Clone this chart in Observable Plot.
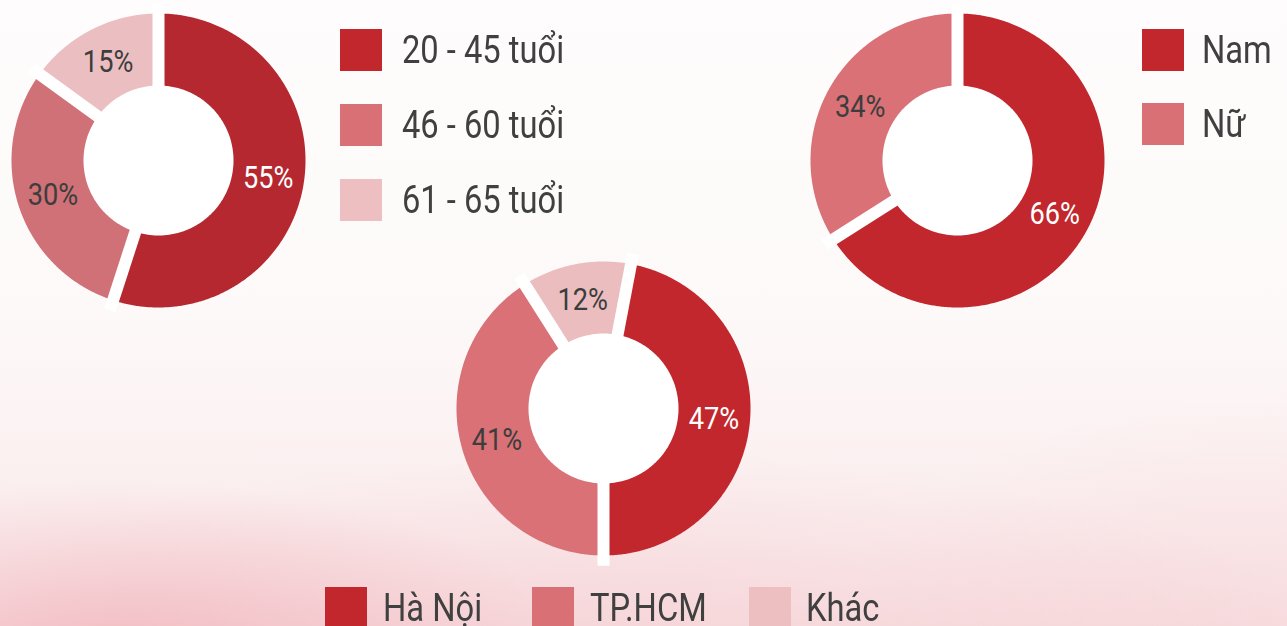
<!DOCTYPE html>
<html>
<head>
<meta charset="utf-8">
<script src="https://cdn.jsdelivr.net/npm/d3@7"></script>
<script src="https://cdn.jsdelivr.net/npm/@observablehq/plot@0.6"></script>
<style>
html, body { margin: 0; padding: 0; }
body {
  width: 1287px; height: 626px; overflow: hidden; position: relative;
  font-family: Roboto, "Noto Sans", sans-serif;
  background:
    radial-gradient(ellipse 460px 170px at 110px 650px, rgba(238,160,170,0.55), rgba(238,160,170,0) 100%),
    radial-gradient(ellipse 760px 250px at 620px 700px, rgba(240,178,186,0.45), rgba(240,178,186,0) 100%),
    radial-gradient(ellipse 420px 260px at 1250px 660px, rgba(243,195,200,0.35), rgba(243,195,200,0) 100%),
    linear-gradient(to bottom, #fefcfc 0%, #fdf9f9 50%, #f9e7e8 100%);
}
#ripple {
  position: absolute; left: 0; top: 0; width: 1287px; height: 626px;
  background: repeating-radial-gradient(ellipse 1.3 1 at 600px 470px,
    rgba(236,165,174,0) 0px, rgba(236,165,174,0.13) 22px, rgba(236,165,174,0) 44px);
  -webkit-mask-image: radial-gradient(ellipse 560px 230px at 600px 480px, rgba(0,0,0,1) 30%, rgba(0,0,0,0) 100%);
  mask-image: radial-gradient(ellipse 560px 230px at 600px 480px, rgba(0,0,0,1) 30%, rgba(0,0,0,0) 100%);
}
.chart { position: absolute; }
.chart svg { display: block; }
.sw { position: absolute; width: 42px; height: 42px; }
.lt { position: absolute; font-size: 38px; line-height: 42px; height: 42px; color: #404040;
      white-space: nowrap; transform: scaleX(0.86); transform-origin: 0 50%; }
</style>
</head>
<body>
<div id="ripple"></div>
<script>
// ---- Data ----
const ageGroups = ["20 - 45 tuổi", "46 - 60 tuổi", "61 - 65 tuổi"];
const ageShares = [55, 30, 15];
const genders = ["Nam", "Nữ"];
const genderShares = [66, 34];
const regions = ["Hà Nội", "TP.HCM", "Khác"];
const regionShares = [47, 41, 12];

// ---- Styles ----
const ageColors = ["#b52830", "#cf7176", "#ebbfc1"];
const genderColors = ["#c1272d", "#d97176"];
const regionColors = ["#c1272d", "#d97176", "#ebbdbf"];
const legendColors = ["#c1272d", "#d97076", "#edbfc1"];
const DARK = "#3d3d3d";

function donut({labels, values, colors, textFill, start, left, top}) {
  const R = 147, r0 = 75, half = 160;
  const total = d3.sum(values);
  let acc = start;
  const slices = values.map((v, i) => {
    const a0 = acc; acc += v / total * 360;
    return {label: labels[i], value: v, a0, a1: acc, color: colors[i], i};
  });
  const rad = d => d * Math.PI / 180;
  const pt = (r, a) => ({x: r * Math.sin(rad(a)), y: r * Math.cos(rad(a))});
  const wedge = s => {
    const pts = [{x: 0, y: 0}];
    const n = Math.max(2, Math.ceil((s.a1 - s.a0) / 0.5));
    for (let j = 0; j <= n; j++) pts.push(pt(1, s.a0 + (s.a1 - s.a0) * j / n));
    pts.push({x: 0, y: 0});
    return pts;
  };
  const hole = d3.range(0, 361, 1).map(a => pt(r0 / R, a));
  const gaps = slices.map(s => pt(1.07, s.a0));
  const labelData = slices.map(s => ({
    ...pt((1 + r0 / R) / 2, (s.a0 + s.a1) / 2),
    text: `${s.value}%`,
    fill: textFill[s.i]
  }));
  const dom = half / R;
  const svg = Plot.plot({
    width: 2 * half, height: 2 * half, margin: 0,
    x: {domain: [-dom, dom], axis: null},
    y: {domain: [-dom, dom], axis: null},
    color: {type: "identity"},
    style: {background: "transparent", overflow: "visible"},
    marks: [
      ...slices.map(s => Plot.line(wedge(s), {x: "x", y: "y", fill: s.color, stroke: "none"})),
      Plot.link(gaps, {x1: () => 0, y1: () => 0, x2: "x", y2: "y", stroke: "white", strokeWidth: 12}),
      Plot.line(hole, {x: "x", y: "y", fill: "white", stroke: "none"}),
      Plot.text(labelData, {x: "x", y: "y", text: "text", fill: d => d.fill, fontSize: 32, fontFamily: "Roboto"})
    ]
  });
  svg.querySelectorAll("text").forEach(t => {
    const tr = t.getAttribute("transform");
    if (tr && tr.includes("translate")) t.setAttribute("transform", tr + " scale(0.85,1)");
  });
  const div = document.createElement("div");
  div.className = "chart";
  div.style.left = left + "px";
  div.style.top = top + "px";
  div.appendChild(svg);
  document.body.appendChild(div);
}

function legend(labels, items) {
  labels.forEach((lab, i) => {
    const it = items[i];
    const sw = document.createElement("div");
    sw.className = "sw";
    sw.style.left = it.sx + "px"; sw.style.top = it.y + "px";
    sw.style.background = legendColors[i];
    document.body.appendChild(sw);
    const t = document.createElement("div");
    t.className = "lt";
    t.style.left = it.tx + "px"; t.style.top = it.y + "px";
    t.textContent = lab;
    document.body.appendChild(t);
  });
}

donut({labels: ageGroups, values: ageShares, colors: ageColors,
       textFill: ["#ffffff", DARK, DARK], start: 0, left: -2, top: 0});
donut({labels: genders, values: genderShares, colors: genderColors,
       textFill: ["#ffffff", DARK], start: 0, left: 797, top: 0});
donut({labels: regions, values: regionShares, colors: regionColors,
       textFill: ["#ffffff", DARK, DARK], start: 10.8, left: 443, top: 248});

legend(ageGroups, [
  {sx: 340, tx: 402, y: 29},
  {sx: 340, tx: 402, y: 104},
  {sx: 340, tx: 402, y: 179}
]);
legend(genders, [
  {sx: 1142, tx: 1202, y: 29},
  {sx: 1142, tx: 1202, y: 103}
]);
legend(regions, [
  {sx: 325, tx: 383, y: 587},
  {sx: 532, tx: 590, y: 587},
  {sx: 749, tx: 806, y: 587}
]);
</script>
</body>
</html>
